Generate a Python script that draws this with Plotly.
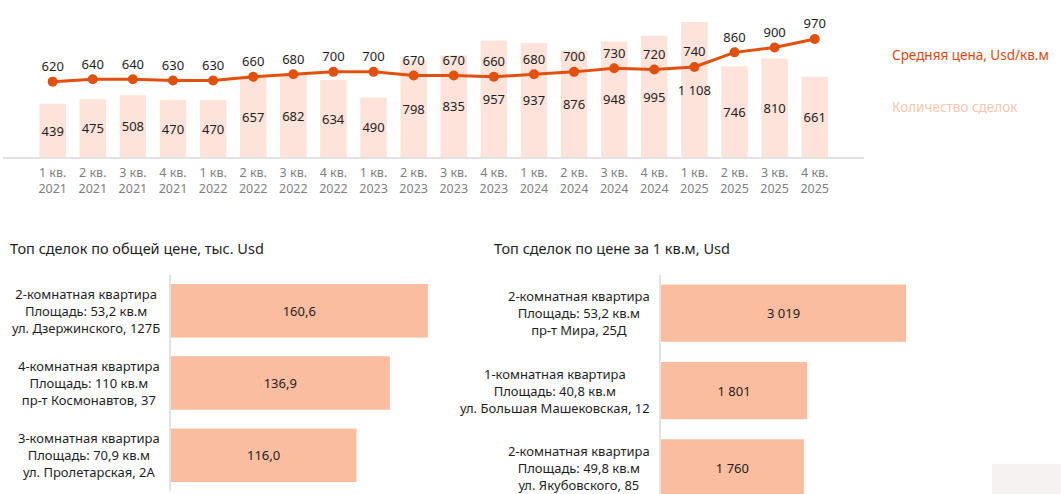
"""Quarterly deals and average price per sq.m, plus the top deals tables as bar charts."""
import plotly.graph_objects as go

WIDTH = 1061
HEIGHT = 494
FONT = "Noto Sans"

QUARTERS = ["1 кв.<br>2021", "2 кв.<br>2021", "3 кв.<br>2021", "4 кв.<br>2021",
            "1 кв.<br>2022", "2 кв.<br>2022", "3 кв.<br>2022", "4 кв.<br>2022",
            "1 кв.<br>2023", "2 кв.<br>2023", "3 кв.<br>2023", "4 кв.<br>2023",
            "1 кв.<br>2024", "2 кв.<br>2024", "3 кв.<br>2024", "4 кв.<br>2024",
            "1 кв.<br>2025", "2 кв.<br>2025", "3 кв.<br>2025", "4 кв.<br>2025"]
DEALS_COUNT = [439, 475, 508, 470, 470, 657, 682, 634, 490, 798,
               835, 957, 937, 876, 948, 995, 1108, 746, 810, 661]
AVG_PRICE = [620, 640, 640, 630, 630, 660, 680, 700, 700, 670,
             670, 660, 680, 700, 730, 720, 740, 860, 900, 970]

TOTAL_TITLE = "Топ сделок по общей цене, тыс. Usd"
TOTAL_LABELS = ["2-комнатная квартира<br>Площадь: 53,2 кв.м<br>ул. Дзержинского, 127Б",
                "4-комнатная квартира<br>Площадь: 110 кв.м<br>пр-т Космонавтов, 37",
                "3-комнатная квартира<br>Площадь: 70,9 кв.м<br>ул. Пролетарская, 2А"]
TOTAL_VALUES = [160.6, 136.9, 116.0]

SQM_TITLE = "Топ сделок по цене за 1 кв.м, Usd"
SQM_LABELS = ["2-комнатная квартира<br>Площадь: 53,2 кв.м<br>пр-т Мира, 25Д",
              "1-комнатная квартира<br>Площадь: 40,8 кв.м<br>ул. Большая Машековская, 12",
              "2-комнатная квартира<br>Площадь: 49,8 кв.м<br>ул. Якубовского, 85"]
SQM_VALUES = [3019, 1801, 1760]

PRICE_NAME = "Средняя цена, Usd/кв.м"
COUNT_NAME = "Количество сделок"

LINE_COLOR = "#E1500F"
LIGHT_BAR = "#FDE3D9"
DEAL_BAR = "#FABD9F"
TEXT_COLOR = "#1E1E1E"
TICK_COLOR = "#7F7F7F"
AXIS_COLOR = "#E3E3E3"


def px_x(x):
    """Pixel column -> paper fraction."""
    return x / WIDTH


def px_y(y):
    """Pixel row (from top) -> paper fraction."""
    return (HEIGHT - y) / HEIGHT


def add_top_chart(fig):
    fig.add_trace(go.Bar(x=QUARTERS, y=DEALS_COUNT, name=COUNT_NAME,
                         marker=dict(color=LIGHT_BAR, line=dict(width=0)),
                         texttemplate="%{y:,.0f}", textposition="inside",
                         insidetextanchor="middle", textangle=0, constraintext="none",
                         textfont=dict(color=TEXT_COLOR, size=13, family=FONT),
                         xaxis="x", yaxis="y"))
    fig.add_trace(go.Scatter(x=QUARTERS, y=AVG_PRICE, name=PRICE_NAME,
                             mode="lines+markers+text",
                             line=dict(color=LINE_COLOR, width=3),
                             marker=dict(color=LINE_COLOR, size=10),
                             text=[str(v) for v in AVG_PRICE], textposition="top center",
                             textfont=dict(color=TEXT_COLOR, size=13, family=FONT),
                             cliponaxis=False, xaxis="x", yaxis="y"))


def add_deal_chart(fig, labels, values, xa, ya, fmt):
    fig.add_trace(go.Bar(x=values, y=labels, orientation="h",
                         marker=dict(color=DEAL_BAR, line=dict(width=0)),
                         texttemplate=fmt, textposition="inside",
                         insidetextanchor="middle", textangle=0, constraintext="none",
                         textfont=dict(color=TEXT_COLOR, size=13, family=FONT),
                         xaxis=xa, yaxis=ya))
    # category labels as centred three-line blocks left of the axis
    annotations = []
    for label in labels:
        annotations.append(dict(x=0, xref=f"{xa} domain", y=label, yref=ya,
                                text=label, showarrow=False, xanchor="right",
                                xshift=-9, align="center",
                                font=dict(color=TEXT_COLOR, size=13, family=FONT)))
    return annotations


def main():
    fig = go.Figure()
    add_top_chart(fig)
    annotations = []
    annotations += add_deal_chart(fig, TOTAL_LABELS, TOTAL_VALUES, "x2", "y2", "%{x:.1f}")
    annotations += add_deal_chart(fig, SQM_LABELS, SQM_VALUES, "x3", "y3", "%{x:,.0f}")

    annotations += [
        dict(x=px_x(890), y=px_y(44), xref="paper", yref="paper", text=PRICE_NAME,
             showarrow=False, xanchor="left", font=dict(color="#D9480F", size=13.5, family=FONT)),
        dict(x=px_x(890), y=px_y(96), xref="paper", yref="paper", text=COUNT_NAME,
             showarrow=False, xanchor="left", font=dict(color="#F8C6AE", size=13.5, family=FONT)),
        dict(x=px_x(8), y=px_y(248), xref="paper", yref="paper", text=TOTAL_TITLE,
             showarrow=False, xanchor="left", font=dict(color=TEXT_COLOR, size=14.5, family=FONT)),
        dict(x=px_x(492), y=px_y(248), xref="paper", yref="paper", text=SQM_TITLE,
             showarrow=False, xanchor="left", font=dict(color=TEXT_COLOR, size=14.5, family=FONT)),
    ]

    fig.update_layout(
        width=WIDTH, height=HEIGHT,
        margin=dict(l=0, r=0, t=0, b=0),
        paper_bgcolor="white", plot_bgcolor="white",
        showlegend=False, separators=", ",
        font=dict(family=FONT, color=TEXT_COLOR),
        bargap=0.34,
        xaxis=dict(domain=[px_x(3.4), px_x(864)], showline=True, linecolor=AXIS_COLOR,
                   linewidth=1.5, showgrid=False, ticks="", fixedrange=True,
                   ticklabelstandoff=3,
                   tickfont=dict(color=TICK_COLOR, size=12.5, family=FONT)),
        yaxis=dict(domain=[px_y(157.3), px_y(10)], range=[0, 1207], visible=False,
                   showgrid=False),
        xaxis2=dict(domain=[px_x(170.7), px_x(460)], range=[0, 180.7], visible=False,
                    anchor="y2"),
        yaxis2=dict(domain=[px_y(491.4), px_y(274.5)], range=[2.5, -0.5], anchor="x2",
                    showline=True, linecolor=AXIS_COLOR, linewidth=2, showticklabels=False,
                    ticks="", showgrid=False),
        xaxis3=dict(domain=[px_x(661), px_x(1000)], range=[0, 4177], visible=False,
                    anchor="y3"),
        yaxis3=dict(domain=[0, px_y(274.5)], range=[2.336, -0.5], anchor="x3",
                    showline=True, linecolor=AXIS_COLOR, linewidth=2, showticklabels=False,
                    ticks="", showgrid=False),
        annotations=annotations,
        shapes=[dict(type="rect", xref="paper", yref="paper", x0=px_x(992), x1=1,
                     y0=0, y1=px_y(463.7), fillcolor="#F5F2F1", line=dict(width=0),
                     layer="below")],
    )
    # horizontal bars are a bit thicker than the column bars
    fig.update_traces(width=0.74, selector=dict(orientation="h"))

    # drop the page's default body margin so the figure sits at the window corner
    fig.write_html("out.html", config=dict(displayModeBar=False),
                   post_script="document.body.style.margin = '0px';")


if __name__ == '__main__':
    main()
